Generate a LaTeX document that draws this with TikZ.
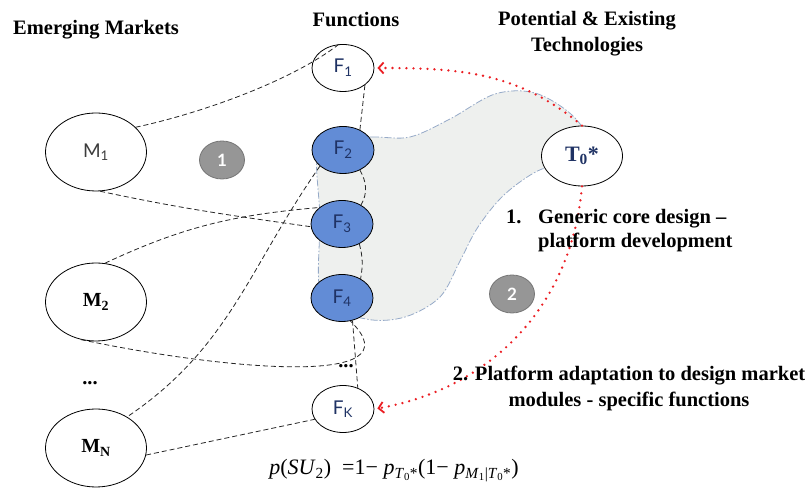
\documentclass[tikz,border=0pt]{standalone}
\usepackage{fontspec}
\setmainfont{Liberation Serif}
\newfontfamily\gillfont{Lato}
\usetikzlibrary{arrows.meta,shapes.geometric}
\definecolor{fnblue}{RGB}{98,140,214}
\definecolor{navy}{RGB}{31,50,100}
\definecolor{mgray}{RGB}{60,60,60}
\definecolor{badgegray}{RGB}{150,150,150}
\definecolor{badgeedge}{RGB}{118,118,118}
\definecolor{blobfill}{RGB}{238,240,238}
\definecolor{blobedge}{RGB}{150,170,200}
\definecolor{arred}{RGB}{235,30,35}
\newcommand{\tz}{\textit{T}\textsubscript{0}*}
\tikzset{
  mkt/.style={ellipse, draw, line width=0.8pt, fill=white, minimum width=101pt, minimum height=78pt, inner sep=0pt},
  fn/.style={ellipse, draw, line width=0.8pt, fill=white, minimum width=62pt, minimum height=47pt, inner sep=0pt,
    font=\gillfont\fontsize{19}{20}\selectfont, text=navy},
  fnon/.style={fn, fill=fnblue},
  tech/.style={ellipse, draw, line width=0.8pt, fill=white, minimum width=81pt, minimum height=60pt, inner sep=0pt},
  badge/.style={ellipse, draw=badgeedge, line width=0.8pt, fill=badgegray, minimum width=45pt, minimum height=38pt,
    inner sep=0pt, text=white, font=\gillfont\bfseries\fontsize{17}{18}\selectfont},
  hdr/.style={font=\fontsize{20.5}{26}\selectfont\bfseries, inner sep=0pt},
  dln/.style={line width=0.8pt, dash pattern=on 5pt off 3pt, black!85},
  rarr/.style={arred, line width=2.6pt, line cap=round, dash pattern=on 0pt off 7pt,
    -{Straight Barb[length=5pt,width=11pt,line width=1.8pt]}, shorten >=3pt},
  blob/.style={fill=blobfill, draw=blobedge, line width=0.8pt, dash pattern=on 7pt off 2pt on 1.5pt off 2pt},
}

\begin{document}
\begin{tikzpicture}[x=1pt,y=1pt]
  \useasboundingbox (0,0) rectangle (811,489);
  % shared platform region
  \draw[blob] plot[smooth cycle, tension=0.55] coordinates {
    (320,350) (372,352) (410,352) (450,370) (495,395) (535,396) (572,374) (590,345)
    (575,322) (542,320) (505,295) (478,262) (460,228) (440,192) (405,172) (366,170) (322,190) (320,270)};

  \node[hdr, anchor=base] (hmk) at (96,454) {Emerging Markets};
  \node[hdr, anchor=base] (hfn) at (356,462) {Functions};
  \node[hdr, align=center] (htec) at (587,455) {Potential \& Existing\\Technologies};

  \node[mkt, font=\gillfont\fontsize{19}{20}\selectfont, text=mgray] (m1) at (96,337) {M\textsubscript{1}};
  \node[mkt, font=\fontsize{20}{22}\selectfont\bfseries] (m2) at (96,187) {M\textsubscript{2}};
  \node[mkt, font=\fontsize{20}{22}\selectfont\bfseries] (mn) at (96,41) {M\textsubscript{N}};
  \node[hdr] (dotsm) at (90,106) {...};

  \node[fn] (f1) at (343,421) {F\textsubscript{1}};
  \node[fnon] (f2) at (343,339) {F\textsubscript{2}};
  \node[fnon] (f3) at (342,265) {F\textsubscript{3}};
  \node[fnon] (f4) at (342,191) {F\textsubscript{4}};
  \node[fn] (fk) at (343,80) {F\textsubscript{K}};
  \node[hdr] (dotsf) at (346,123) {...};

  \node[tech, font=\fontsize{22}{23}\selectfont\bfseries, text=navy] (t0) at (582,333) {T\textsubscript{0}*};
  \node[badge] (b1) at (222,329) {1};
  \node[badge] (b2) at (512,195) {2};

  % market -- function links
  \draw[dln] (m1.32) .. controls +(70,15) and +(-45,-35) .. (f1.100);
  \draw[dln] (f1.-38) -- (f2.50);
  \draw[dln] (f2.-50) to[out=-60,in=60] (f3.45);
  \draw[dln] (f3.-49) to[out=-75,in=80] (f4.46);
  \draw[dln] (f4.-65) -- (fk.55);
  \draw[dln] (m2.248) .. controls (220,120) and (420,100) .. (f4.-70);
  \draw[dln] (m1.-84) to[out=-12,in=172] (f3.185);
  \draw[dln] (m2.77) to[out=25,in=185] (f3.144);
  \draw[dln] (f2.215) to[out=235,in=34] (mn.45);
  \draw[dln] (mn.-8) -- (fk.200);

  % platform steps
  \draw[rarr] (t0.north) to[out=140,in=0] (f1.east);
  \draw[rarr] (t0.south) to[out=-95,in=10] (fk.east);

  \node[font=\fontsize{20.5}{24}\selectfont\bfseries, inner sep=0pt, align=left, anchor=west] (core) at (506,258)
    {\makebox[32pt][l]{1.}Generic core design –\\\hspace*{32pt}platform development};
  \node[hdr, align=center] (adapt) at (629,101)
    {2. Platform adaptation to design market\\modules - specific functions};
  \node[anchor=base, inner sep=0pt, font=\fontsize{22}{24}\selectfont] (eq) at (394,14)
    {\textit{p}(\textit{SU}\textsubscript{2})\ \ =1− \textit{p}\textsubscript{\tz}(1− \textit{p}\textsubscript{\textit{M}\textsubscript{1}|\tz})};
\end{tikzpicture}
\end{document}
